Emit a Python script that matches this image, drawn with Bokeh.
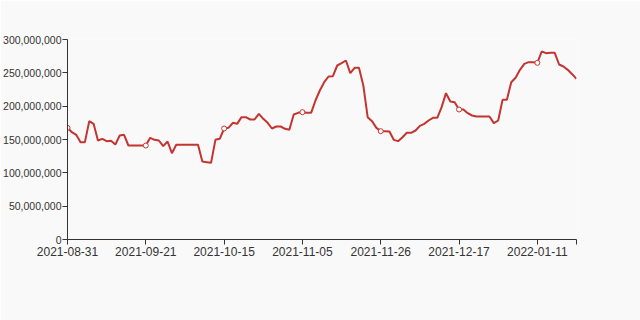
from bokeh.plotting import figure
from bokeh.models import ColumnDataSource, FixedTicker, NumeralTickFormatter, Range1d
from bokeh.embed import file_html
from bokeh.resources import INLINE

# x-axis tick labels (category axis, one label every 18 points)
tick_labels = ["2021-08-31", "2021-09-21", "2021-10-15", "2021-11-05",
               "2021-11-26", "2021-12-17", "2022-01-11"]
label_interval = 18

# series values
values = [
    167500000, 161000000, 157000000, 146000000, 146000000, 177500000, 173500000, 148500000,
    151000000, 147500000, 148000000, 142500000, 156000000, 157000000, 141000000, 141000000,
    141000000, 141000000, 141000000, 152500000, 149500000, 148500000, 140000000, 147000000,
    129500000, 142000000, 142000000, 142000000, 142000000, 142000000, 142000000, 117000000,
    116000000, 115000000, 149500000, 151000000, 166500000, 167500000, 175000000, 173500000,
    183500000, 183500000, 180000000, 180000000, 188500000, 181000000, 175000000, 166500000,
    169500000, 169500000, 166000000, 164500000, 187500000, 190000000, 191000000, 190000000,
    190000000, 208500000, 223500000, 236000000, 244500000, 245000000, 261000000, 264500000,
    268500000, 249500000, 257500000, 257500000, 231000000, 183500000, 177500000, 167500000,
    162500000, 162500000, 162000000, 149500000, 147500000, 153500000, 160000000, 160000000,
    163500000, 170500000, 173500000, 178500000, 182500000, 182500000, 198500000, 219500000,
    207000000, 206000000, 195000000, 195000000, 189500000, 186000000, 184500000, 184500000,
    184500000, 184500000, 174500000, 178500000, 209500000, 209500000, 236000000, 242500000,
    254500000, 263500000, 266000000, 266000000, 265000000, 282000000, 279500000, 280000000,
    280000000, 262500000, 259500000, 254500000, 248000000, 241000000,
]

# y-axis ticks
y_ticks = [0, 50000000, 100000000, 150000000, 200000000, 250000000, 300000000]

LINE_COLOR = "#c23531"
AXIS_COLOR = "#333333"
BG = "#f9f9f9"

idx = list(range(len(values)))
last = len(values) - 1
tick_idx = [i * label_interval for i in range(len(tick_labels))]

src = ColumnDataSource(data=dict(x=idx, y=values))
msrc = ColumnDataSource(data=dict(x=tick_idx, y=[values[i] for i in tick_idx]))

p = figure(width=640, height=320, output_backend="svg", toolbar_location=None,
           x_range=Range1d(0, last), y_range=Range1d(y_ticks[0], y_ticks[-1]),
           min_border_left=65, min_border_right=64, min_border_top=39, min_border_bottom=81,
           background_fill_color=BG, border_fill_color=BG, outline_line_color=None)

p.line("x", "y", source=src, line_color=LINE_COLOR, line_width=2)
p.scatter("x", "y", source=msrc, size=5, fill_color="white", line_color=LINE_COLOR, line_width=1)

p.xgrid.visible = False
p.ygrid.visible = False

xa = p.xaxis[0]
xa.ticker = FixedTicker(ticks=tick_idx + [last])
overrides = {t: lab for t, lab in zip(tick_idx, tick_labels)}
overrides[last] = ""
xa.major_label_overrides = overrides

ya = p.yaxis[0]
ya.ticker = FixedTicker(ticks=y_ticks)
ya.formatter = NumeralTickFormatter(format="0,0")

for ax in (xa, ya):
    ax.axis_line_color = AXIS_COLOR
    ax.major_tick_line_color = AXIS_COLOR
    ax.major_tick_in = 0
    ax.major_tick_out = 5
    ax.minor_tick_line_color = None
    ax.major_label_text_color = AXIS_COLOR
    ax.major_label_text_font = "Liberation Sans"
    ax.major_label_text_font_style = "normal"

xa.major_label_text_font_size = "12px"
xa.major_label_standoff = 2
ya.major_label_text_font_size = "10.5px"
ya.major_label_standoff = 1

open("out.html", "w").write(file_html(p, INLINE))
